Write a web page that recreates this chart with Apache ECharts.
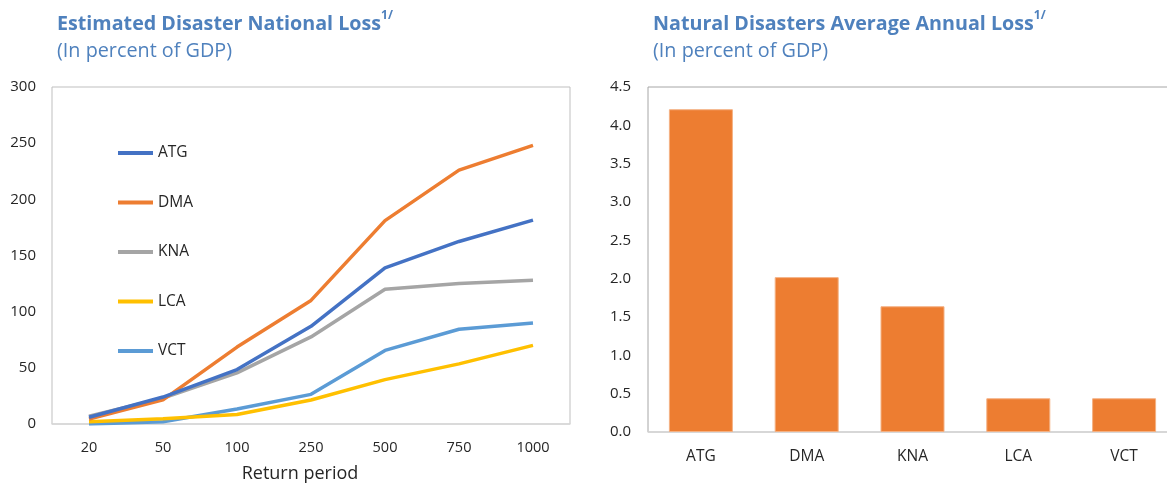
<!DOCTYPE html>
<html>
<head>
<meta charset="utf-8">
<script src="https://cdn.jsdelivr.net/npm/echarts@6/dist/echarts.min.js"></script>
<style>
html,body{margin:0;padding:0;background:#fff;}
#c{width:1167px;height:484px;}
</style>
</head>
<body>
<div id="c"></div>
<script>
// ---- data ----
const returnPeriods = ['20', '50', '100', '250', '500', '750', '1000'];
const lineNames = ['ATG', 'DMA', 'KNA', 'LCA', 'VCT'];
const atgLoss = [6, 24, 48.5, 87, 139, 162.5, 181.5];
const dmaLoss = [4.5, 21.5, 68.5, 110, 181, 226, 248];
const knaLoss = [7, 23, 45.5, 77.5, 120, 125, 128];
const lcaLoss = [2, 4.7, 8.5, 21.4, 39.5, 53.5, 70];
const vctLoss = [0, 2, 13.4, 26.4, 65.5, 84.3, 90];
const barCategories = ['ATG', 'DMA', 'KNA', 'LCA', 'VCT'];
const averageAnnualLoss = [4.21, 2.02, 1.64, 0.44, 0.44];
const leftYTicks = {min: 0, max: 300, interval: 50};
const rightYTicks = {min: 0, max: 4.5, interval: 0.5};

const lineColors = ['#4472C4', '#ED7D31', '#A5A5A5', '#FFC000', '#5B9BD5'];
const lineData = [atgLoss, dmaLoss, knaLoss, lcaLoss, vctLoss];
const FONT = 'Open Sans';
const TITLE_COLOR = '#4F81BD';
const LABEL_COLOR = '#262626';

const chart = echarts.init(document.getElementById('c'));

function titleBlock(left, main) {
  return [{
    left: left, top: 5,
    text: '{t|' + main + '}{s|1/}',
    textStyle: {
      rich: {
        t: {fontFamily: FONT, fontWeight: 'bold', fontSize: 19.7, color: TITLE_COLOR, lineHeight: 28},
        s: {fontFamily: FONT, fontWeight: 'bold', fontSize: 12, color: TITLE_COLOR, verticalAlign: 'top', lineHeight: 28}
      }
    }
  }, {
    left: left, top: 36,
    text: '(In percent of GDP)',
    textStyle: {fontFamily: FONT, fontWeight: 'normal', fontSize: 19.8, color: TITLE_COLOR}
  }];
}

const option = {
  animation: false,
  backgroundColor: '#fff',
  title: [].concat(titleBlock(52, 'Estimated Disaster National Loss'), titleBlock(648, 'Natural Disasters Average Annual Loss')),
  legend: {
    orient: 'vertical',
    left: 113, top: 140,
    itemWidth: 35, itemHeight: 4,
    itemGap: 33.5,
    icon: 'rect',
    data: lineNames,
    textStyle: {fontFamily: FONT, fontSize: 15.5, color: LABEL_COLOR, lineHeight: 16}
  },
  grid: [
    {left: 52, right: 597, top: 87, bottom: 60, show: true, borderColor: '#bfbfbf', borderWidth: 1, containLabel: false, outerBoundsMode: 'none'},
    {left: 648, right: -10, top: 87, bottom: 52, show: true, borderColor: '#a6a6a6', borderWidth: 1, containLabel: false, outerBoundsMode: 'none'}
  ],
  xAxis: [
    {
      gridIndex: 0, type: 'category', data: returnPeriods, boundaryGap: true,
      axisLine: {show: true, lineStyle: {color: '#d9d9d9', width: 1.5}},
      axisTick: {show: false},
      axisLabel: {fontFamily: FONT, fontSize: 14.5, color: LABEL_COLOR, margin: 16},
      name: 'Return period', nameLocation: 'middle', nameGap: 41,
      nameTextStyle: {fontFamily: FONT, fontSize: 18, color: LABEL_COLOR, padding: [0, 22, 0, 0]}
    },
    {
      gridIndex: 1, type: 'category', data: barCategories, boundaryGap: true,
      axisLine: {show: true, lineStyle: {color: '#d9d9d9', width: 1.5}},
      axisTick: {show: false},
      axisLabel: {fontFamily: FONT, fontSize: 15.5, color: LABEL_COLOR, margin: 17}
    }
  ],
  yAxis: [
    {
      gridIndex: 0, type: 'value', min: leftYTicks.min, max: leftYTicks.max, interval: leftYTicks.interval,
      axisLine: {show: false}, axisTick: {show: false}, splitLine: {show: false},
      axisLabel: {fontFamily: FONT, fontSize: 15, color: LABEL_COLOR, margin: 16}
    },
    {
      gridIndex: 1, type: 'value', min: rightYTicks.min, max: rightYTicks.max, interval: rightYTicks.interval,
      axisLine: {show: false}, axisTick: {show: false}, splitLine: {show: false},
      axisLabel: {fontFamily: FONT, fontSize: 15, color: LABEL_COLOR, margin: 17,
        formatter: function (v) { return v.toFixed(1); }}
    }
  ],
  series: lineNames.map(function (n, i) {
    return {
      name: n, type: 'line', xAxisIndex: 0, yAxisIndex: 0,
      data: lineData[i], showSymbol: false, symbol: 'none',
      lineStyle: {color: lineColors[i], width: 3.5},
      itemStyle: {color: lineColors[i]},
      z: 10 - i
    };
  }).concat([{
    name: 'AAL', type: 'bar', xAxisIndex: 1, yAxisIndex: 1,
    data: averageAnnualLoss, barWidth: 64,
    itemStyle: {color: '#ED7D31', borderColor: '#F4B183', borderWidth: 1}
  }])
};
chart.setOption(option);
</script>
</body>
</html>
